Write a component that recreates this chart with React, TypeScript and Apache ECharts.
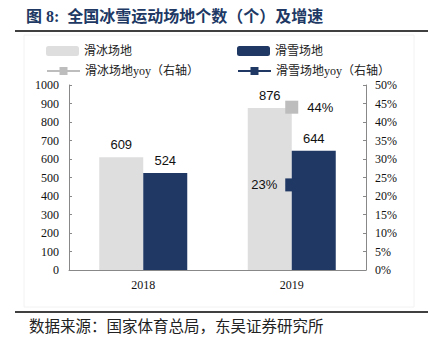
import React, { useEffect, useRef } from "react";
import * as echarts from "echarts";

const categories = ["2018", "2019"];
const iceCount = [609, 876];
const snowCount = [524, 644];
const iceYoy = [null, 44];
const snowYoy = [null, 23];
const seriesNames = ["滑冰场地", "滑雪场地", "滑冰场地yoy（右轴）", "滑雪场地yoy（右轴）"];
const titleText = "图 8:  全国冰雪运动场地个数（个）及增速";
const sourceText = "数据来源：国家体育总局，东吴证券研究所";

const NAVY = "#203864";
const LIGHT = "#DEDEDE";
const GRAYM = "#BDBDBD";
const SERIF = "'Liberation Serif', 'Noto Sans CJK SC', serif";
const CJK = "'Liberation Serif', 'Noto Sans CJK SC', sans-serif";
const SANS = "'Liberation Sans', Arial, sans-serif";

export default function App() {
  const ref = useRef<HTMLDivElement>(null);
  useEffect(() => {
    if (!ref.current) return;
    const chart = echarts.init(ref.current, null, { renderer: "svg" });
    const legendText = { fontFamily: CJK, fontSize: 12, color: "#222" };
    const mkLegend = (name: string, left: number, top: number) => ({
      data: [name],
      left,
      top,
      itemWidth: 33,
      itemHeight: 10,
      itemGap: 0,
      padding: 0,
      textStyle: legendText,
    });
    chart.setOption({
      animation: false,
      backgroundColor: "#fff",
      graphic: [
        {
          type: "rect",
          shape: { x: 24, y: 35, width: 390, height: 272 },
          style: { fill: "none", stroke: "#F2F2F2", lineWidth: 1 },
          z: -1,
        },
        {
          type: "text",
          left: 26,
          top: 8,
          style: { text: titleText, fontFamily: "'Liberation Serif', 'Noto Sans CJK SC', serif", fontWeight: "bold", fontSize: 16, fill: NAVY },
        },
        { type: "line", shape: { x1: 15, y1: 31, x2: 428, y2: 31 }, style: { stroke: "#000", lineWidth: 1.5 } },
        { type: "line", shape: { x1: 15, y1: 312, x2: 428, y2: 312 }, style: { stroke: "#000", lineWidth: 1.5 } },
        {
          type: "text",
          left: 29,
          top: 317,
          style: { text: sourceText, fontFamily: "'Noto Sans CJK SC', sans-serif", fontSize: 15.5, fill: "#222" },
        },
      ],
      legend: [
        mkLegend(seriesNames[0], 46, 45),
        mkLegend(seriesNames[1], 237, 45),
        mkLegend(seriesNames[2], 46, 65),
        mkLegend(seriesNames[3], 237, 65),
      ],
      grid: { left: 69, right: 62, top: 85, bottom: 69, containLabel: false },
      xAxis: {
        type: "category",
        data: categories,
        axisLine: { lineStyle: { color: "#888" } },
        axisTick: { show: false },
        axisLabel: { fontFamily: SERIF, fontSize: 12, color: "#111", margin: 9 },
      },
      yAxis: [
        {
          type: "value",
          min: 0,
          max: 1000,
          interval: 100,
          splitLine: { show: false },
          axisLine: { show: true, lineStyle: { color: "#888" } },
          axisTick: { show: true, inside: true, length: 3, lineStyle: { color: "#888" } },
          axisLabel: { fontFamily: SERIF, fontSize: 12, color: "#111", margin: 10, formatter: (v: number) => String(v) },
        },
        {
          type: "value",
          min: 0,
          max: 50,
          interval: 5,
          position: "right",
          splitLine: { show: false },
          axisLine: { show: true, lineStyle: { color: "#888" } },
          axisTick: { show: true, inside: true, length: 3, lineStyle: { color: "#888" } },
          axisLabel: { fontFamily: SERIF, fontSize: 12, color: "#111", margin: 9, formatter: "{value}%" },
        },
      ],
      series: [
        {
          name: seriesNames[0],
          type: "bar",
          data: iceCount,
          barWidth: 44,
          barGap: "0%",
          itemStyle: { color: LIGHT },
          label: { show: true, position: "top", fontFamily: SANS, fontSize: 13, color: "#111", distance: 6 },
        },
        {
          name: seriesNames[1],
          type: "bar",
          data: snowCount,
          barWidth: 44,
          barGap: "0%",
          itemStyle: { color: NAVY },
          label: { show: true, position: "top", fontFamily: SANS, fontSize: 13, color: "#111", distance: 6 },
        },
        {
          name: seriesNames[2],
          type: "line",
          yAxisIndex: 1,
          data: iceYoy,
          symbol: "rect",
          symbolSize: 13,
          showSymbol: true,
          lineStyle: { color: GRAYM, width: 3 },
          itemStyle: { color: GRAYM },
          label: { show: true, position: "right", distance: 9, formatter: "{c}%", fontFamily: SANS, fontSize: 13, color: "#111" },
          z: 5,
        },
        {
          name: seriesNames[3],
          type: "line",
          yAxisIndex: 1,
          data: snowYoy,
          symbol: "rect",
          symbolSize: 13,
          showSymbol: true,
          lineStyle: { color: NAVY, width: 3 },
          itemStyle: { color: NAVY },
          label: { show: true, position: "left", distance: 8, formatter: "{c}%", fontFamily: SANS, fontSize: 13, color: "#111" },
          z: 5,
        },
      ],
    });
    return () => chart.dispose();
  }, []);
  return <div ref={ref} style={{ width: 428, height: 339, position: "absolute", left: 0, top: 0 }} />;
}
